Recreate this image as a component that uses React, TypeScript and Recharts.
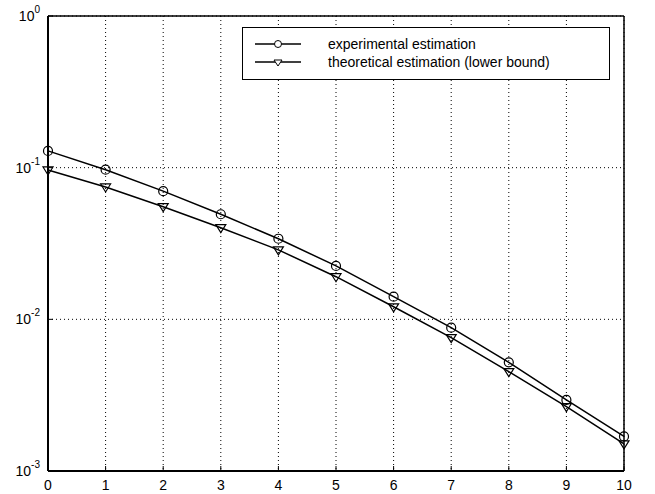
import { LineChart, XAxis, YAxis, CartesianGrid, Line } from 'recharts';

const xs = [0, 1, 2, 3, 4, 5, 6, 7, 8, 9, 10];
const experimental = [0.129, 0.097, 0.07, 0.0493, 0.034, 0.0225, 0.0141, 0.00881, 0.00521, 0.00294, 0.00169];
const theoretical = [0.0966, 0.0746, 0.0553, 0.0402, 0.0287, 0.0191, 0.0121, 0.00758, 0.00452, 0.00266, 0.00151];
const xTicks = [0, 1, 2, 3, 4, 5, 6, 7, 8, 9, 10];
const yTicks = [0.001, 0.01, 0.1, 1];
const seriesNames = ['experimental estimation', 'theoretical estimation (lower bound)'];

const data = xs.map((x, i) => ({ x, exp: experimental[i], theo: theoretical[i] }));

const FONT = '"Liberation Sans", Arial, sans-serif';

const XTick = (props: any) => {
  const { x, y, payload } = props;
  return (
    <g>
      <line x1={x} y1={y} x2={x} y2={y - 5} stroke="#000" />
      <text x={x} y={y + 19} textAnchor="middle" fontSize={14} fontFamily={FONT} fill="#000">
        {payload.value}
      </text>
    </g>
  );
};

const YTick = (props: any) => {
  const { x, y, payload } = props;
  const exp = Math.round(Math.log10(payload.value));
  return (
    <g>
      <line x1={x} y1={y} x2={x + 5} y2={y} stroke="#000" />
      <text x={x - 8} y={y + 5} textAnchor="end" fontFamily={FONT} fill="#000">
        <tspan fontSize={14}>10</tspan>
        <tspan fontSize={10} dy={-8}>{exp}</tspan>
      </text>
    </g>
  );
};

const Circle = (props: any) => {
  const { cx, cy, index } = props;
  return <circle key={'c' + index} cx={cx} cy={cy} r={4.5} fill="none" stroke="#000" strokeWidth={1.2} />;
};

const Tri = (props: any) => {
  const { cx, cy, index } = props;
  const s = 5;
  return (
    <path
      key={'t' + index}
      d={`M${cx - s},${cy - s * 0.6} L${cx + s},${cy - s * 0.6} L${cx},${cy + s} Z`}
      fill="none"
      stroke="#000"
      strokeWidth={1.2}
    />
  );
};

const LegendBox = () => (
  <div
    style={{
      position: 'absolute',
      left: 242,
      top: 27,
      width: 366,
      height: 51,
      background: '#fff',
      border: '1.5px solid #000',
      fontFamily: FONT,
      fontSize: 14,
      color: '#000',
    }}
  >
    {seriesNames.map((name, i) => (
      <div key={name} style={{ position: 'absolute', left: 10, top: 7 + i * 18, height: 18, display: 'flex', alignItems: 'center' }}>
        <svg width={50} height={18} style={{ display: 'block' }}>
          <line x1={2} y1={9} x2={48} y2={9} stroke="#000" strokeWidth={1.3} />
          {i === 0 ? (
            <circle cx={25} cy={9} r={3.5} fill="#fff" stroke="#000" />
          ) : (
            <path d="M21,7 L29,7 L25,13 Z" fill="#fff" stroke="#000" />
          )}
        </svg>
        <span style={{ marginLeft: 25, whiteSpace: 'nowrap' }}>{name}</span>
      </div>
    ))}
  </div>
);

export default function App() {
  return (
    <div style={{ position: 'absolute', left: 0, top: 0, width: 655, height: 494, background: '#fff' }}>
      <LineChart width={655} height={494} data={data} margin={{ top: 16, right: 31, bottom: 0, left: 0 }}>
        <CartesianGrid stroke="#000" strokeDasharray="1 3" />
        <XAxis
          dataKey="x"
          type="number"
          domain={[0, 10]}
          ticks={xTicks}
          height={23}
          tickSize={0}
          tickMargin={0}
          tickLine={false}
          tick={<XTick />}
          axisLine={{ stroke: '#000', strokeWidth: 2 }}
        />
        <XAxis
          xAxisId="top"
          dataKey="x"
          type="number"
          orientation="top"
          mirror
          domain={[0, 10]}
          ticks={xTicks}
          tick={false}
          tickSize={5}
          tickLine={{ stroke: '#000' }}
          axisLine={{ stroke: '#000', strokeWidth: 1.5 }}
        />
        <YAxis
          scale="log"
          domain={[0.001, 1]}
          ticks={yTicks}
          allowDataOverflow
          width={48}
          tickSize={0}
          tickMargin={0}
          tickLine={false}
          tick={<YTick />}
          axisLine={{ stroke: '#000', strokeWidth: 2 }}
        />
        <YAxis
          yAxisId="right"
          orientation="right"
          mirror
          scale="log"
          domain={[0.001, 1]}
          ticks={yTicks}
          allowDataOverflow
          tick={false}
          tickSize={5}
          tickLine={{ stroke: '#000' }}
          axisLine={{ stroke: '#000', strokeWidth: 1.5 }}
        />
        <Line
          dataKey="exp"
          name={seriesNames[0]}
          type="linear"
          stroke="#000"
          strokeWidth={1.5}
          dot={Circle}
          isAnimationActive={false}
        />
        <Line
          dataKey="theo"
          name={seriesNames[1]}
          type="linear"
          stroke="#000"
          strokeWidth={1.5}
          dot={Tri}
          isAnimationActive={false}
        />
      </LineChart>
      <LegendBox />
    </div>
  );
}
